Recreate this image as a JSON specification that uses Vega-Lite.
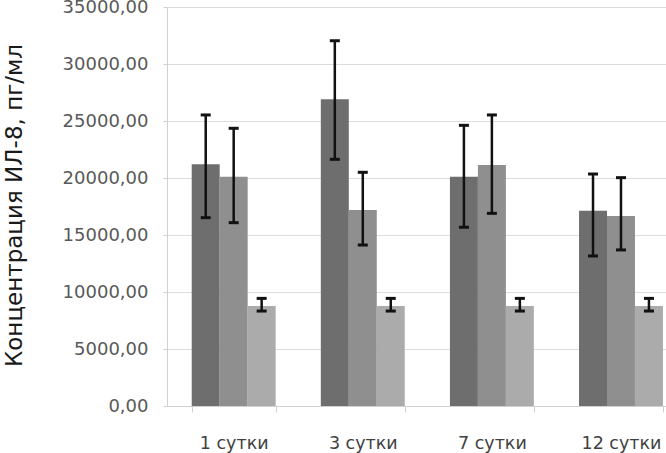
{
  "$schema": "https://vega.github.io/schema/vega-lite/v6.json",
  "autosize": {"type": "none"},
  "padding": {"left": 167, "top": 7, "right": 0, "bottom": 47},
  "width": 499,
  "height": 399,
  "background": "white",
  "config": {
    "view": {"stroke": null},
    "font": "DejaVu Sans"
  },
  "data": {
    "values": [
      {"day": "1 сутки", "grp": "A", "value": 21200, "lo": 16520, "hi": 25530},
      {"day": "1 сутки", "grp": "B", "value": 20120, "lo": 16080, "hi": 24360},
      {"day": "1 сутки", "grp": "C", "value": 8770, "lo": 8330, "hi": 9440},
      {"day": "3 сутки", "grp": "A", "value": 26900, "lo": 21640, "hi": 32040},
      {"day": "3 сутки", "grp": "B", "value": 17190, "lo": 14120, "hi": 20500},
      {"day": "3 сутки", "grp": "C", "value": 8770, "lo": 8330, "hi": 9440},
      {"day": "7 сутки", "grp": "A", "value": 20120, "lo": 15680, "hi": 24620},
      {"day": "7 сутки", "grp": "B", "value": 21140, "lo": 16900, "hi": 25530},
      {"day": "7 сутки", "grp": "C", "value": 8770, "lo": 8330, "hi": 9440},
      {"day": "12 сутки", "grp": "A", "value": 17130, "lo": 13160, "hi": 20350},
      {"day": "12 сутки", "grp": "B", "value": 16670, "lo": 13690, "hi": 20030},
      {"day": "12 сутки", "grp": "C", "value": 8770, "lo": 8330, "hi": 9440}
    ]
  },
  "encoding": {
    "x": {
      "field": "day", "type": "nominal", "sort": null,
      "scale": {"paddingInner": 0.35, "paddingOuter": 0.1076, "align": 0.89},
      "axis": {
        "title": null, "labelAngle": 0,
        "labelFont": "DejaVu Sans", "labelFontSize": 17.5, "labelColor": "#404040",
        "labelBaseline": "alphabetic", "labelPadding": 36,
        "domainColor": "#d0d0d0", "tickColor": "#d0d0d0", "tickSize": 6,
        "tickBand": "extent", "grid": false
      }
    },
    "xOffset": {"field": "grp", "type": "nominal", "scale": {"paddingInner": 0, "paddingOuter": 0}}
  },
  "layer": [
    {
      "mark": {"type": "bar"},
      "encoding": {
        "y": {
          "field": "value", "type": "quantitative",
          "scale": {"domain": [0, 35000]},
          "axis": {
            "title": "Концентрация ИЛ-8, пг/мл",
            "titleFont": "DejaVu Sans", "titleFontSize": 23, "titleFontWeight": "normal",
            "titleColor": "#1a1a1a", "titleBaseline": "alphabetic",
            "titleX": -146, "titleY": 198, "titleAngle": -90,
            "values": [0, 5000, 10000, 15000, 20000, 25000, 30000, 35000],
            "labelExpr": "replace(format(datum.value, '.2f'), '.', ',')",
            "labelFont": "DejaVu Sans", "labelFontSize": 18, "labelColor": "#595959",
            "labelPadding": 15, "tickSize": 4,
            "domainColor": "#d0d0d0", "tickColor": "#d0d0d0",
            "grid": true, "gridColor": "#dcdcdc", "gridWidth": 1
          }
        },
        "color": {
          "field": "grp", "type": "nominal", "legend": null,
          "scale": {"domain": ["A", "B", "C"], "range": ["#6e6e6e", "#8f8f8f", "#ababab"]}
        }
      }
    },
    {
      "mark": {"type": "rule", "color": "#111111", "strokeWidth": 2.5},
      "encoding": {
        "y": {"field": "lo", "type": "quantitative", "axis": {"title": "Концентрация ИЛ-8, пг/мл"}},
        "y2": {"field": "hi"}
      }
    },
    {
      "mark": {"type": "tick", "color": "#111111", "size": 10, "thickness": 3, "opacity": 1},
      "encoding": {
        "y": {"field": "hi", "type": "quantitative", "axis": {"title": "Концентрация ИЛ-8, пг/мл"}}
      }
    },
    {
      "mark": {"type": "tick", "color": "#111111", "size": 10, "thickness": 3, "opacity": 1},
      "encoding": {
        "y": {"field": "lo", "type": "quantitative", "axis": {"title": "Концентрация ИЛ-8, пг/мл"}}
      }
    }
  ]
}
